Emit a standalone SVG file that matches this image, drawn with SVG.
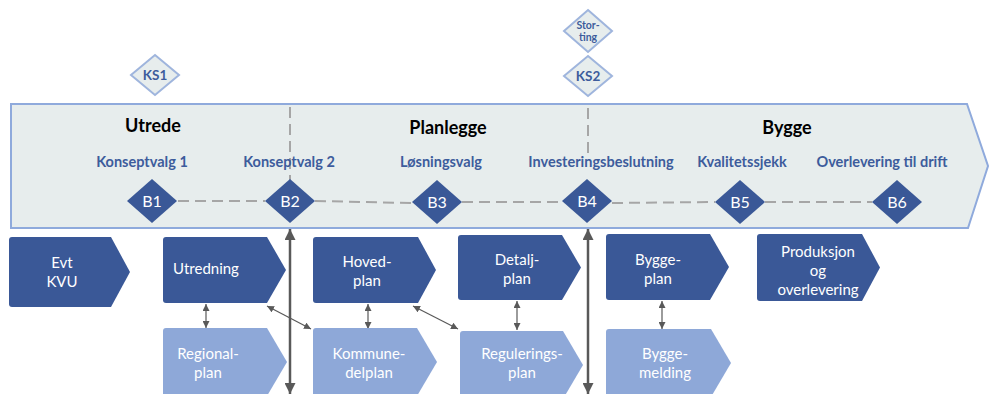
<svg xmlns="http://www.w3.org/2000/svg" width="989" height="394" viewBox="0 0 989 394">
<style>
.banner{fill:#e7eded;stroke:#8faadc;stroke-width:2}
.ks{fill:#e7eded;stroke:#9fb5dd;stroke-width:2}
.kst{font-family:Lato,"Liberation Sans",sans-serif;font-weight:bold;fill:#3d5c9c;text-anchor:middle}
.title{font-family:Lato,"Liberation Sans",sans-serif;font-weight:bold;font-size:18px;fill:#000;text-anchor:middle}
.sub{font-family:Lato,"Liberation Sans",sans-serif;font-weight:bold;font-size:14.5px;fill:#3d5c9c;text-anchor:middle}
.bd{fill:#3a5897}
.bdt{font-family:Lato,"Liberation Sans",sans-serif;font-size:16px;fill:#fff;text-anchor:middle}
.dark{fill:#3a5897}
.light{fill:#8ea8d8}
.bt{font-family:Lato,"Liberation Sans",sans-serif;font-size:15px;fill:#fff;text-anchor:middle}
.dash{stroke:#a6a6a6;stroke-width:2;stroke-dasharray:11,6;fill:none}
.big{stroke:#595959;stroke-width:2.5;fill:none;marker-start:url(#bh);marker-end:url(#bh)}
.small{stroke:#595959;stroke-width:1.2;fill:none;marker-start:url(#sh);marker-end:url(#sh)}
</style>
<defs>
<marker id="bh" viewBox="0 0 10 10" refX="10" refY="5" markerWidth="11" markerHeight="11" markerUnits="userSpaceOnUse" orient="auto-start-reverse"><path d="M0,0 L10,5 L0,10 Z" fill="#595959"/></marker>
<marker id="sh" viewBox="0 0 10 10" refX="10" refY="5" markerWidth="7" markerHeight="7" markerUnits="userSpaceOnUse" orient="auto-start-reverse"><path d="M0,0 L10,5 L0,10 Z" fill="#595959"/></marker>
</defs>

<g id="banner">
<path class="banner" d="M11,104 H967 L988,166 L968,228 H11 Z"/>
<text class="title" x="153" y="132">Utrede</text>
<text class="title" x="448" y="134">Planlegge</text>
<text class="title" x="787" y="134">Bygge</text>
</g>

<g id="connectors">
<line class="dash" x1="290" y1="107" x2="290" y2="180"/>
<line class="dash" x1="588" y1="108" x2="588" y2="154"/>
<line class="dash" x1="178" y1="201" x2="265" y2="201"/>
<line class="dash" x1="315" y1="201" x2="412" y2="203"/>
<line class="dash" x1="462" y1="202" x2="562" y2="202"/>
<line class="dash" x1="612" y1="203" x2="715" y2="202"/>
<line class="dash" x1="765" y1="202" x2="872" y2="202"/>
<line class="big" x1="290" y1="229" x2="290" y2="394"/>
<line class="big" x1="588" y1="229" x2="588" y2="394"/>
<line class="small" x1="206" y1="304" x2="206" y2="328"/>
<line class="small" x1="267" y1="306" x2="311" y2="329"/>
<line class="small" x1="368" y1="304" x2="368" y2="329"/>
<line class="small" x1="413" y1="306" x2="458" y2="329"/>
<line class="small" x1="517" y1="301" x2="517" y2="330"/>
<line class="small" x1="662" y1="301" x2="662" y2="329"/>
</g>

<g id="ks1"><path class="ks" d="M155,55 L179,75 L155,95 L131,75 Z"/><text class="kst" x="155" y="80" font-size="13.5">KS1</text></g>
<g id="storting"><path class="ks" d="M588,10 L612,31 L588,52 L564,31 Z"/><text class="kst" x="588" y="29" font-size="10.5">Stor-</text><text class="kst" x="588" y="41" font-size="10.5">ting</text></g>
<g id="ks2"><path class="ks" d="M588,56 L612,76 L588,96 L564,76 Z"/><text class="kst" x="588" y="81" font-size="13.5">KS2</text></g>

<g id="sub1"><text class="sub" x="142" y="167">Konseptvalg 1</text></g>
<g id="sub2"><text class="sub" x="289" y="167">Konseptvalg 2</text></g>
<g id="sub3"><text class="sub" x="441" y="167">Løsningsvalg</text></g>
<g id="sub4"><text class="sub" x="601" y="167">Investeringsbeslutning</text></g>
<g id="sub5"><text class="sub" x="742" y="167">Kvalitetssjekk</text></g>
<g id="sub6"><text class="sub" x="882" y="167">Overlevering til drift</text></g>

<g id="B1"><path class="bd" d="M152,179 L177,201 L152,223 L127,201 Z"/><text class="bdt" x="152" y="207">B1</text></g>
<g id="B2"><path class="bd" d="M290,179 L315,201 L290,223 L265,201 Z"/><text class="bdt" x="290" y="207">B2</text></g>
<g id="B3"><path class="bd" d="M437,180 L462,202 L437,224 L412,202 Z"/><text class="bdt" x="437" y="208">B3</text></g>
<g id="B4"><path class="bd" d="M587,179 L612,201 L587,223 L562,201 Z"/><text class="bdt" x="587" y="207">B4</text></g>
<g id="B5"><path class="bd" d="M740,180 L765,202 L740,224 L715,202 Z"/><text class="bdt" x="740" y="208">B5</text></g>
<g id="B6"><path class="bd" d="M897,180 L922,202 L897,224 L872,202 Z"/><text class="bdt" x="897" y="208">B6</text></g>

<g id="evt-kvu"><path class="dark" d="M12,237 H111 L130,272 L111,307 H12 Q9,307 9,304 V240 Q9,237 12,237 Z"/><text class="bt" x="62" y="268">Evt</text><text class="bt" x="62" y="287">KVU</text></g>
<g id="utredning"><path class="dark" d="M166,237 H267 L286,270 L267,303 H166 Q163,303 163,300 V240 Q163,237 166,237 Z"/><text class="bt" x="206" y="274">Utredning</text></g>
<g id="hovedplan"><path class="dark" d="M316,237 H418 L436,270 L418,303 H316 Q313,303 313,300 V240 Q313,237 316,237 Z"/><text class="bt" x="367" y="267">Hoved-</text><text class="bt" x="367" y="286">plan</text></g>
<g id="detaljplan"><path class="dark" d="M461,235 H562 L581,267.5 L562,300 H461 Q458,300 458,297 V238 Q458,235 461,235 Z"/><text class="bt" x="517" y="265">Detalj-</text><text class="bt" x="517" y="284">plan</text></g>
<g id="byggeplan"><path class="dark" d="M609,234 H710 L729,267 L710,300 H609 Q606,300 606,297 V237 Q606,234 609,234 Z"/><text class="bt" x="658" y="265">Bygge-</text><text class="bt" x="658" y="284">plan</text></g>
<g id="produksjon"><path class="dark" d="M760,234 H862 L880,267.5 L862,301 H760 Q757,301 757,298 V237 Q757,234 760,234 Z"/><text class="bt" x="818" y="257">Produksjon</text><text class="bt" x="818" y="276">og</text><text class="bt" x="818" y="295">overlevering</text></g>

<g id="regionalplan"><path class="light" d="M166,328 H267 L287,362 L267,396 H163 V331 Q163,328 166,328 Z"/><text class="bt" x="208" y="359">Regional-</text><text class="bt" x="208" y="378">plan</text></g>
<g id="kommunedelplan"><path class="light" d="M316,328 H417 L437,362 L417,396 H313 V331 Q313,328 316,328 Z"/><text class="bt" x="369" y="359">Kommune-</text><text class="bt" x="369" y="378">delplan</text></g>
<g id="reguleringsplan"><path class="light" d="M463,331 H563 L583,365 L563,399 H460 V334 Q460,331 463,331 Z"/><text class="bt" x="522" y="359">Regulerings-</text><text class="bt" x="522" y="378">plan</text></g>
<g id="byggemelding"><path class="light" d="M609,329 H711 L731,363 L711,397 H606 V332 Q606,329 609,329 Z"/><text class="bt" x="665" y="359">Bygge-</text><text class="bt" x="665" y="378">melding</text></g>
</svg>
